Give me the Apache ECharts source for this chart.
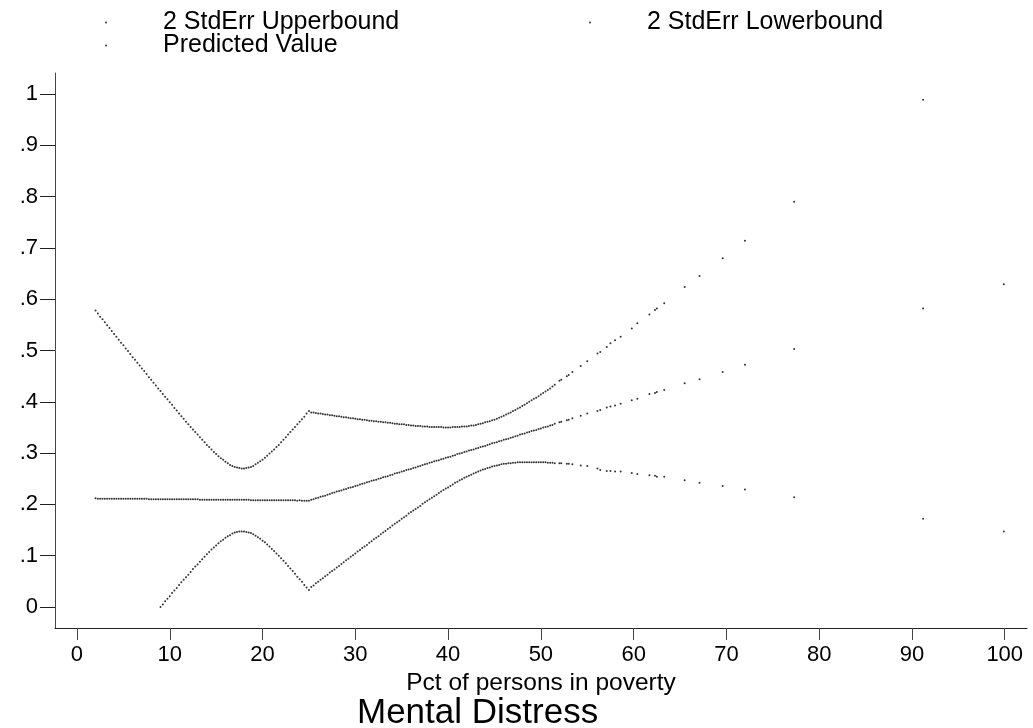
<!DOCTYPE html>
<html>
<head>
<meta charset="utf-8">
<script src="https://cdn.jsdelivr.net/npm/echarts@6/dist/echarts.min.js"></script>
<style>html,body{margin:0;padding:0;background:#fff;}#c{width:1033px;height:728px;}</style>
</head>
<body>
<div id="c"></div>
<script>
// Pct of persons in poverty (x) — each reading position along the curves
var xVals = [
 2,2.5,3,3.5,4,4.5,5,5.5,6,6.5,7,7.5,8,8.5,9,9.5,10,10.5,11,11.5,12,12.5,13,13.5,14,14.5,15,15.5,16,16.5,17,17.5,18,18.5,19,19.5,20,20.5,21,21.5,22,22.5,23,23.5,24,24.5,25,
 25.5,26,26.5,27,27.5,28,28.5,29,29.5,30,30.5,31,31.5,32,32.5,33,33.5,34,34.5,35,35.5,36,36.5,37,37.5,38,38.5,39,39.5,40,40.5,41,41.5,42,42.5,43,43.5,44,44.5,45,45.5,46,46.5,47,47.5,48,48.5,49,49.5,50,50.5,51,51.5,
 52.0,52.2,52.8,53.0,53.4,54.3,55.0,56.1,56.4,57.1,57.5,58.0,58.6,59.8,60.4,61.7,62.3,62.5,63.3,65.5,67.1,69.6,72.0,77.3,91.2,99.9,
 2.25,2.75,3.25,3.75,4.25,4.75,5.25,5.75,6.25,6.75,7.25,7.75,8.25,8.75,9.25,9.75,10.25,10.75,11.25,11.75,12.25,12.75,13.25,13.75,14.25,14.75,15.25,15.75,16.25,16.75,17.25,17.75,18.25,18.75,19.25,19.75,20.25,20.75,21.25,21.75,22.25,22.75,23.25,23.75,24.25,24.75,
 25.25,25.75,26.25,26.75,27.25,27.75,28.25,28.75,29.25,29.75,30.25,30.75,31.25,31.75,32.25,32.75,33.25,33.75,34.25,34.75,35.25,35.75,36.25,36.75,37.25,37.75,38.25,38.75,39.25,39.75,40.25,40.75,41.25,41.75,42.25,42.75,43.25,43.75,44.25,44.75,45.25,45.75,46.25,46.75,47.25,47.75,48.25,48.75,49.25,49.75,50.25,50.75,51.25
];
var upperVals = [
 .578,.566,.555,.544,.532,.521,.510,.499,.487,.476,.465,.454,.443,.432,.421,.410,.399,.388,.377,.367,.356,.346,.336,.326,.316,.307,.298,.290,.283,.277,.273,.271,.270,.272,.275,.281,.287,.295,.303,.312,.321,.331,.341,.351,.361,.371,.382,
 .379,.377,.376,.375,.374,.372,.371,.370,.368,.367,.366,.365,.363,.362,.361,.360,.359,.358,.357,.356,.355,.354,.353,.353,.352,.351,.351,.351,.350,.350,.351,.351,.352,.352,.354,.355,.357,.360,.362,.365,.369,.373,.377,.382,.387,.392,.397,.403,.408,.414,.420,.426,.433,
 .441,.443,.450,.452,.458,.470,.479,.494,.497,.507,.514,.520,.527,.543,.553,.570,.579,.582,.592,.624,.645,.680,.714,.790,.989,null,
 .572,.561,.549,.538,.527,.515,.504,.493,.482,.471,.460,.448,.437,.426,.415,.405,.394,.383,.372,.361,.351,.341,.331,.321,.312,.302,.294,.287,.280,.275,.272,.270,.271,.273,.278,.284,.291,.299,.307,.316,.326,.336,.346,.356,.366,.377,
 .379,.378,.377,.375,.374,.373,.372,.370,.369,.368,.366,.365,.364,.363,.362,.361,.360,.359,.357,.356,.356,.355,.354,.353,.352,.352,.351,.351,.351,.350,.350,.351,.351,.352,.353,.354,.356,.358,.361,.364,.367,.371,.375,.379,.384,.389,.394,.400,.406,.411,.417,.423,.430
];
var predVals = [
 .212,.211,.211,.211,.211,.211,.211,.211,.211,.211,.211,.211,.210,.210,.210,.210,.210,.210,.210,.210,.210,.210,.210,.209,.209,.209,.209,.209,.209,.209,.209,.209,.209,.209,.208,.208,.208,.208,.208,.208,.208,.208,.208,.208,.208,.207,.207,
 .210,.213,.216,.219,.222,.225,.227,.230,.233,.236,.239,.241,.244,.247,.250,.253,.255,.258,.261,.264,.267,.269,.272,.275,.278,.281,.284,.286,.289,.292,.295,.298,.300,.303,.306,.309,.312,.314,.317,.320,.323,.326,.328,.331,.334,.337,.340,.343,.345,.348,.351,.354,.357,
 .360,.361,.364,.365,.368,.373,.377,.382,.384,.389,.391,.393,.396,.403,.406,.415,.417,.419,.423,.436,.444,.458,.472,.503,.582,.629,
 .211,.211,.211,.211,.211,.211,.211,.211,.211,.211,.211,.210,.210,.210,.210,.210,.210,.210,.210,.210,.210,.210,.209,.209,.209,.209,.209,.209,.209,.209,.209,.209,.209,.208,.208,.208,.208,.208,.208,.208,.208,.208,.208,.207,.207,.207,
 .209,.212,.215,.217,.220,.223,.226,.229,.232,.234,.237,.240,.243,.246,.248,.251,.254,.257,.260,.262,.265,.268,.271,.274,.277,.279,.282,.285,.288,.291,.293,.296,.299,.302,.305,.307,.310,.313,.316,.319,.321,.324,.327,.330,.333,.336,.338,.341,.344,.347,.350,.352,.355
];
var lowerVals = [
 null,null,null,null,null,null,null,null,null,null,null,null,null,null,.000,.011,.021,.032,.043,.053,.063,.074,.083,.093,.103,.112,.120,.128,.135,.140,.145,.147,.147,.145,.142,.136,.129,.122,.113,.104,.095,.085,.075,.065,.054,.043,.033,
 .042,.049,.056,.063,.070,.077,.084,.091,.098,.104,.111,.118,.125,.132,.138,.145,.152,.159,.165,.172,.178,.185,.191,.197,.204,.210,.216,.222,.228,.233,.239,.244,.249,.254,.258,.262,.266,.269,.272,.275,.277,.279,.280,.281,.282,.282,.282,.282,.282,.282,.282,.281,.280,
 .280,.280,.279,.279,.278,.276,.275,.270,.267,.265,.265,.264,.264,.261,.259,.257,.256,.254,.254,.247,.242,.236,.229,.214,.172,.147,
 null,null,null,null,null,null,null,null,null,null,null,null,null,null,.005,.016,.027,.037,.048,.058,.068,.079,.088,.098,.107,.116,.124,.131,.138,.143,.146,.147,.146,.144,.139,.133,.126,.118,.109,.100,.090,.080,.070,.059,.049,.038,
 .039,.046,.053,.060,.067,.073,.080,.087,.094,.101,.108,.115,.121,.128,.135,.142,.148,.155,.162,.168,.175,.182,.188,.194,.201,.207,.213,.219,.225,.231,.236,.242,.247,.252,.256,.260,.264,.268,.271,.274,.276,.278,.279,.280,.281,.282,.282,.282,.282,.282,.282,.281,.281
];
var seriesNames = ['2 StdErr Upperbound', '2 StdErr Lowerbound', 'Predicted Value'];
var xTickValues = [0,10,20,30,40,50,60,70,80,90,100];
var yTickValues = [0,0.1,0.2,0.3,0.4,0.5,0.6,0.7,0.8,0.9,1];
var yTickLabels = ['0','.1','.2','.3','.4','.5','.6','.7','.8','.9','1'];
var xTitle = 'Pct of persons in poverty';
var chartTitle = 'Mental Distress';

function pairs(ys) {
  var out = [];
  for (var i = 0; i < xVals.length; i++) {
    if (ys[i] !== null && ys[i] !== undefined) out.push([xVals[i], ys[i]]);
  }
  return out;
}

var FONT = '"Liberation Sans", Arial, Helvetica, sans-serif';
var chart = echarts.init(document.getElementById('c'), null, {renderer: 'canvas'});

function legendFor(name, left, top) {
  return {
    data: [name],
    left: left, top: top,
    orient: 'horizontal',
    padding: 0,
    itemWidth: 2, itemHeight: 2,
    icon: 'circle',
    selectedMode: false,
    textStyle: {fontFamily: FONT, fontSize: 25, lineHeight: 25, color: '#000', padding: [0, 0, 0, 51]}
  };
}

var dotStyle = {color: '#000'};
chart.setOption({
  animation: false,
  backgroundColor: '#fff',
  title: {
    text: chartTitle,
    left: 357, top: 696,
    padding: 0,
    textStyle: {fontFamily: FONT, fontSize: 35, lineHeight: 35, fontWeight: 'normal', color: '#000'}
  },
  legend: [
    legendFor(seriesNames[0], 105, 10),
    legendFor(seriesNames[1], 589, 10),
    legendFor(seriesNames[2], 105, 33)
  ],
  grid: {left: 55, right: 6, top: 73, bottom: 100, containLabel: false, outerBoundsMode: 'none'},
  xAxis: {
    type: 'value',
    min: -2.37, max: 102.4,
    name: xTitle,
    nameLocation: 'middle',
    nameGap: 36,
    nameTextStyle: {fontFamily: FONT, fontSize: 24.5, lineHeight: 24, color: '#000'},
    axisLine: {show: true, onZero: false, lineStyle: {color: '#222', width: 1}},
    axisTick: {show: true, inside: false, length: 12, customValues: xTickValues, lineStyle: {color: '#444'}},
    axisLabel: {customValues: xTickValues, margin: 16, fontFamily: FONT, fontSize: 22, lineHeight: 22, color: '#000'},
    splitLine: {show: false}
  },
  yAxis: {
    type: 'value',
    min: -0.041, max: 1.041,
    axisLine: {show: true, onZero: false, lineStyle: {color: '#444', width: 1}},
    axisTick: {show: true, inside: false, length: 15, customValues: yTickValues, lineStyle: {color: '#222'}},
    axisLabel: {
      customValues: yTickValues, margin: 17, fontFamily: FONT, fontSize: 22, color: '#000',
      formatter: function (v) {
        for (var i = 0; i < yTickValues.length; i++) if (Math.abs(yTickValues[i] - v) < 1e-9) return yTickLabels[i];
        return '';
      }
    },
    splitLine: {show: false}
  },
  series: [
    {name: seriesNames[0], type: 'scatter', symbol: 'circle', symbolSize: 2, itemStyle: dotStyle, data: pairs(upperVals)},
    {name: seriesNames[1], type: 'scatter', symbol: 'circle', symbolSize: 2, itemStyle: dotStyle, data: pairs(lowerVals)},
    {name: seriesNames[2], type: 'scatter', symbol: 'circle', symbolSize: 2, itemStyle: dotStyle, data: pairs(predVals)}
  ]
});
</script>
</body>
</html>
